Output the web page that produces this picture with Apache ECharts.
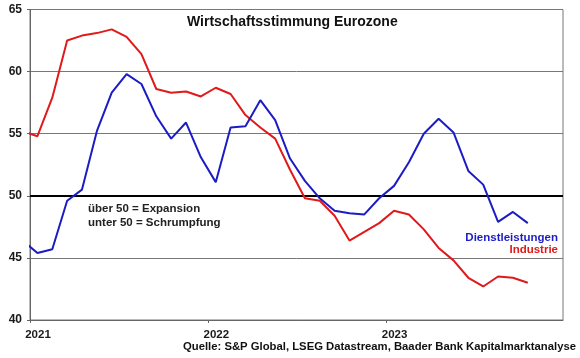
<!DOCTYPE html>
<html>
<head>
<meta charset="utf-8">
<script src="https://cdn.jsdelivr.net/npm/echarts@6/dist/echarts.min.js"></script>
<style>
html,body{margin:0;padding:0;background:#fff;}
#chart{width:580px;height:358px;}
</style>
</head>
<body>
<div id="chart"></div>
<script>
// Monthly PMI values (Dec 2020 is the clipped lead-in point)
const months = ['2020-12','2021-01','2021-02','2021-03','2021-04','2021-05','2021-06','2021-07','2021-08','2021-09','2021-10','2021-11','2021-12',
  '2022-01','2022-02','2022-03','2022-04','2022-05','2022-06','2022-07','2022-08','2022-09','2022-10','2022-11','2022-12',
  '2023-01','2023-02','2023-03','2023-04','2023-05','2023-06','2023-07','2023-08','2023-09','2023-10'];
const dienstleistungen = [46.4, 45.4, 45.7, 49.6, 50.5, 55.2, 58.3, 59.8, 59.0, 56.4, 54.6, 55.9, 53.1,
  51.1, 55.5, 55.6, 57.7, 56.1, 53.0, 51.2, 49.8, 48.8, 48.6, 48.5, 49.8,
  50.8, 52.7, 55.0, 56.2, 55.1, 52.0, 50.9, 47.9, 48.7, 47.8];
const industrie = [55.2, 54.8, 57.9, 62.5, 62.9, 63.1, 63.4, 62.8, 61.4, 58.6, 58.3, 58.4, 58.0,
  58.7, 58.2, 56.5, 55.5, 54.6, 52.1, 49.8, 49.6, 48.4, 46.4, 47.1, 47.8,
  48.8, 48.5, 47.3, 45.8, 44.8, 43.4, 42.7, 43.5, 43.4, 43.0];
const yearLabels = ['2021', '2022', '2023'];
const threshold = 50;

const FONT = '"Liberation Sans", Arial, sans-serif';
// month position: months since Jan 2021, placed mid-month
function monthPos(m) {
  const [y, mo] = m.split('-').map(Number);
  return (y - 2021) * 12 + (mo - 1) + 0.5;
}
const serv = months.map((m, i) => [monthPos(m), dienstleistungen[i]]);
const ind = months.map((m, i) => [monthPos(m), industrie[i]]);

const chart = echarts.init(document.getElementById('chart'), null, {renderer: 'canvas'});
chart.setOption({
  animation: false,
  backgroundColor: '#fff',
  grid: {left: 30, right: 17, top: 9.5, bottom: 38, show: true, borderColor: '#777', borderWidth: 1, backgroundColor: 'transparent'},
  xAxis: {
    type: 'value', min: 0, max: 35.87, interval: 12,
    axisLine: {show: true, lineStyle: {color: '#666', width: 1}},
    axisTick: {show: true, length: 3, lineStyle: {color: '#666'}},
    splitLine: {show: false},
    axisLabel: {
      showMaxLabel: false,
      margin: 9,
      padding: [0, 0, 0, 16],
      color: '#1a1a1a', fontFamily: FONT, fontWeight: 'bold', fontSize: 11.5,
      formatter: v => (v % 12 === 0 ? yearLabels[v / 12] || '' : '')
    }
  },
  yAxis: {
    type: 'value', min: 40, max: 65, interval: 5,
    axisLine: {show: true, lineStyle: {color: '#666', width: 1}},
    axisTick: {show: true, length: 3, lineStyle: {color: '#666'}},
    splitLine: {show: true, lineStyle: {color: '#777', width: 1}},
    axisLabel: {margin: 8, color: '#1a1a1a', fontFamily: FONT, fontWeight: 'bold', fontSize: 12}
  },
  series: [
    {
      name: 'Industrie', type: 'line', data: ind, symbol: 'none', clip: true,
      lineStyle: {color: '#e01a1a', width: 2}, z: 3,
      markLine: {
        silent: true, symbol: 'none', label: {show: false},
        lineStyle: {color: '#000', width: 2, type: 'solid'},
        data: [{yAxis: threshold}], z: 2
      }
    },
    {
      name: 'Dienstleistungen', type: 'line', data: serv, symbol: 'none', clip: true,
      lineStyle: {color: '#1c1cc4', width: 2}, z: 4
    }
  ],
  graphic: [
    {type: 'text', left: 187, top: 15, style: {text: 'Wirtschaftsstimmung Eurozone', font: 'bold 14px ' + FONT, fill: '#111'}, z: 10},
    {type: 'text', x: 88, y: 202, style: {text: 'über 50 = Expansion\nunter 50 = Schrumpfung', font: 'bold 11.5px ' + FONT, fill: '#222', lineHeight: 14}, z: 10},
    {type: 'text', right: 22, top: 232, style: {text: 'Dienstleistungen', font: 'bold 11.5px ' + FONT, fill: '#1c1cc4', align: 'right'}, z: 10},
    {type: 'text', right: 22, top: 244, style: {text: 'Industrie', font: 'bold 11.5px ' + FONT, fill: '#e01a1a', align: 'right'}, z: 10},
    {type: 'text', right: 4, top: 341, style: {text: 'Quelle: S&P Global, LSEG Datastream, Baader Bank Kapitalmarktanalyse', font: 'bold 11.3px ' + FONT, fill: '#111'}, z: 10}
  ]
});
</script>
</body>
</html>
